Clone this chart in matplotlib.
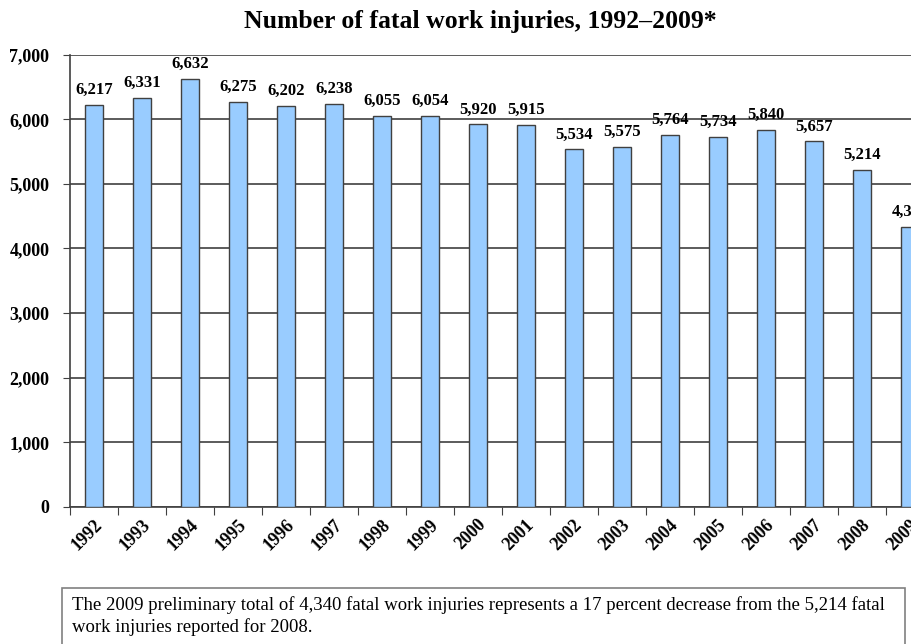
import numpy as np
import matplotlib.pyplot as plt
import matplotlib.transforms as mtransforms
from matplotlib.patches import Rectangle

years = ['1992', '1993', '1994', '1995', '1996', '1997', '1998', '1999', '2000',
         '2001', '2002', '2003', '2004', '2005', '2006', '2007', '2008', '2009']
deaths = [6217, 6331, 6632, 6275, 6202, 6238, 6055, 6054, 5920,
          5915, 5534, 5575, 5764, 5734, 5840, 5657, 5214, 4340]
yticks = [0, 1000, 2000, 3000, 4000, 5000, 6000, 7000]

plt.rcParams['font.family'] = ['Liberation Serif', 'DejaVu Serif']

fig = plt.figure(figsize=(9.12, 6.44), dpi=100)
ax = fig.add_axes([0.077, 0.213, 0.947, 0.702])

ind = np.arange(len(years))
width = 0.38
ax.bar(ind, deaths, width, color='#99ccff', edgecolor='#404040', linewidth=1.0, zorder=3)

for x, v in zip(ind, deaths):
	ax.annotate('{:,}'.format(v), (x, v), xytext=(0, 5), textcoords='offset points',
				ha='center', va='bottom', fontsize=12, fontweight='bold')

ax.set_xlim(-0.5, len(years) - 0.5)
ax.set_ylim(0, 7000)
ax.set_yticks(yticks)
ax.set_yticklabels(['{:,}'.format(t) for t in yticks], fontsize=13, fontweight='bold')
ax.yaxis.grid(True, color='#404040', linewidth=1.2, zorder=0)
ax.set_axisbelow(True)

# category ticks between bars, labels under bars
ax.set_xticks(ind - 0.5, minor=False)
ax.set_xticklabels([])
ax.tick_params(axis='x', length=6, direction='out', color='#404040')
ax.tick_params(axis='y', length=5, direction='out', color='#404040', pad=10)
offset = mtransforms.ScaledTranslation(4 / 72, -11 / 72, fig.dpi_scale_trans)
for x, lab in zip(ind, years):
	t = ax.text(x, 0, lab, rotation=45, ha='right', va='center', rotation_mode='anchor',
				fontsize=13, fontweight='bold', transform=ax.get_xaxis_transform())
	t.set_transform(t.get_transform() + offset)

for s in ['top', 'right']:
	ax.spines[s].set_visible(False)
ax.spines['left'].set_color('#404040')
ax.spines['bottom'].set_color('#404040')
ax.spines['left'].set_linewidth(1.2)
ax.spines['bottom'].set_linewidth(1.2)

fig.text(0.527, 0.966, 'Number of fatal work injuries, 1992\u20132009*', ha='center', va='center',
		 fontsize=18.5, fontweight='bold')

box = Rectangle((62 / 912, -0.02), (905 - 62) / 912, (644 - 588) / 644 + 0.02,
				transform=fig.transFigure, fill=False, edgecolor='#808080', linewidth=1.2)
fig.patches.append(box)
fig.text(72 / 912, 1 - 605 / 644, 'The 2009 preliminary total of 4,340 fatal work injuries represents a 17 percent decrease from the 5,214 fatal',
		 ha='left', va='center', fontsize=13.5)
fig.text(72 / 912, 1 - 627 / 644, 'work injuries reported for 2008.', ha='left', va='center', fontsize=13.5)

fig.savefig('out.png')
plt.close(fig)
